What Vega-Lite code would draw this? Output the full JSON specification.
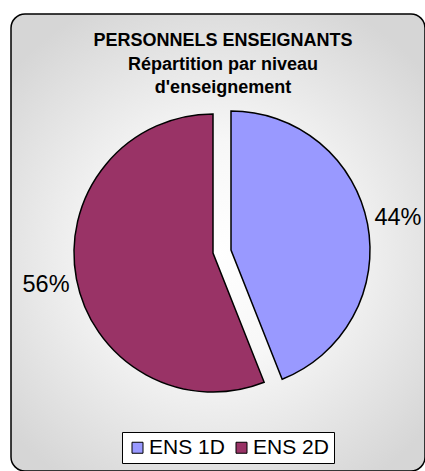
{
  "$schema": "https://vega.github.io/schema/vega-lite/v6.json",
  "width": 414,
  "height": 457,
  "autosize": {"type": "none"},
  "padding": {"left": 11, "top": 14, "right": 0, "bottom": 0},
  "background": "white",
  "view": {
    "stroke": "black",
    "strokeWidth": 1.5,
    "cornerRadius": 14,
    "fill": {
      "gradient": "radial",
      "x1": 0.5, "y1": 0.52, "r1": 0,
      "x2": 0.5, "y2": 0.52, "r2": 0.6,
      "stops": [
        {"offset": 0, "color": "#ffffff"},
        {"offset": 0.4, "color": "#f7f7f7"},
        {"offset": 1, "color": "#d6d6d6"}
      ]
    }
  },
  "title": {
    "text": ["PERSONNELS ENSEIGNANTS", "Répartition par niveau", "d'enseignement"],
    "font": "Liberation Sans",
    "fontSize": 18,
    "fontWeight": "bold",
    "color": "black",
    "lineHeight": 23.5,
    "anchor": "middle",
    "frame": "group",
    "baseline": "top",
    "offset": -83,
    "dx": 5
  },
  "data": {
    "values": [
      {"niveau": "ENS 1D", "part": 0.44},
      {"niveau": "ENS 2D", "part": 0.56}
    ]
  },
  "encoding": {
    "theta": {"field": "part", "type": "quantitative", "stack": true},
    "color": {
      "field": "niveau",
      "type": "nominal",
      "scale": {"domain": ["ENS 1D", "ENS 2D"], "range": ["#9999FF", "#993366"]},
      "legend": {
        "title": null,
        "orient": "none",
        "direction": "horizontal",
        "legendX": 111,
        "legendY": 418,
        "padding": 5,
        "fillColor": "white",
        "strokeColor": "black",
        "symbolType": "square",
        "symbolSize": 121,
        "symbolStrokeColor": "black",
        "symbolStrokeWidth": 1,
        "symbolOpacity": 1,
        "labelFont": "Liberation Sans",
        "labelFontSize": 21,
        "labelColor": "black",
        "labelOffset": 1,
        "columnPadding": 6
      }
    }
  },
  "layer": [
    {
      "mark": {"type": "arc", "outerRadius": 139, "stroke": "black", "strokeWidth": 1.5, "xOffset": -5, "yOffset": 10.5},
      "encoding": {
        "opacity": {"condition": {"test": "datum.niveau === 'ENS 1D'", "value": 0}, "value": 1}
      }
    },
    {
      "mark": {"type": "arc", "outerRadius": 139, "stroke": "black", "strokeWidth": 1.5, "xOffset": 13, "yOffset": 7.5},
      "encoding": {
        "opacity": {"condition": {"test": "datum.niveau === 'ENS 2D'", "value": 0}, "value": 1}
      }
    },
    {
      "mark": {"type": "text", "radius": 170, "font": "Liberation Sans", "fontSize": 23.5, "xOffset": -5, "yOffset": 10.5},
      "encoding": {
        "text": {"field": "part", "type": "quantitative", "format": ".0%"},
        "color": {"value": "black"},
        "detail": {"field": "niveau"},
        "opacity": {"condition": {"test": "datum.niveau === 'ENS 1D'", "value": 0}, "value": 1}
      }
    },
    {
      "mark": {"type": "text", "radius": 170, "font": "Liberation Sans", "fontSize": 23.5, "xOffset": 13, "yOffset": 7.5},
      "encoding": {
        "text": {"field": "part", "type": "quantitative", "format": ".0%"},
        "color": {"value": "black"},
        "detail": {"field": "niveau"},
        "opacity": {"condition": {"test": "datum.niveau === 'ENS 2D'", "value": 0}, "value": 1}
      }
    }
  ]
}
